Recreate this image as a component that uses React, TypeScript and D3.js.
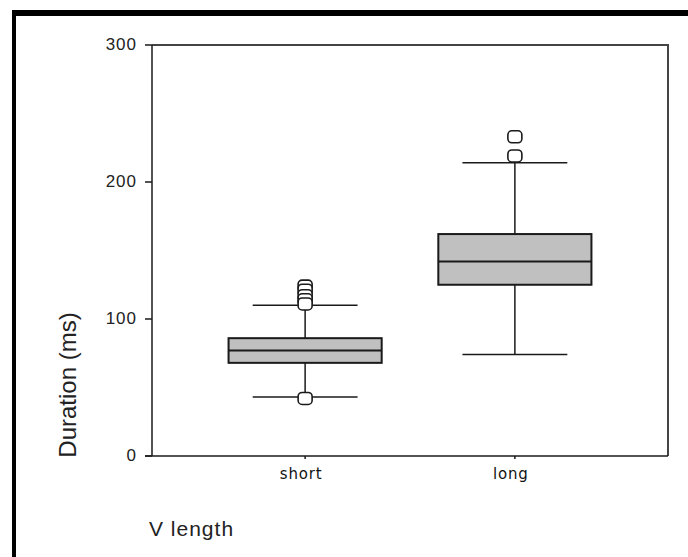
import React from 'react';
import * as d3 from 'd3';

// Box plot stats (ms)
const categories = ['short', 'long'];
const q1 = [68, 125];
const median = [77, 142];
const q3 = [86, 162];
const whiskerLow = [43, 74];
const whiskerHigh = [110, 214];
const outliers = [
  [124, 121, 117, 114, 111, 42],
  [219, 233],
];
const yTicks = [0, 100, 200, 300];

const W = 688, H = 557;
const plot = { left: 152, top: 45, right: 668, bottom: 456 };

export default function App() {
  const y = d3.scaleLinear().domain([0, 300]).range([plot.bottom, plot.top]);
  const x = d3.scalePoint<string>().domain(categories).range([plot.left, plot.right]).padding(0.73);
  const step = x.step();
  const boxW = step * 0.73;
  const capW = step * 0.5;
  const ink = '#1a1a1a';

  return (
    <svg width={W} height={H} style={{ position: 'absolute', left: 0, top: 0, background: '#fff' }}
      fontFamily="'Liberation Sans', Arial, sans-serif">
      {/* outer frame (top and left black bars) */}
      <rect x={12} y={10} width={W - 12} height={6} fill="#000" />
      <rect x={12} y={10} width={4} height={H - 10} fill="#000" />

      {/* plot frame */}
      <path d={`M${plot.left},${plot.top}H${plot.right}V${plot.bottom}`} fill="none" stroke="#444" strokeWidth={2} />
      <line x1={plot.left} x2={plot.left} y1={plot.top} y2={plot.bottom} stroke={ink} strokeWidth={1.5} />
      <line x1={plot.left - 7} x2={plot.right} y1={plot.bottom} y2={plot.bottom} stroke={ink} strokeWidth={1.5} />

      {/* y axis ticks */}
      {yTicks.map(t => (
        <g key={t}>
          <line x1={plot.left - 7} x2={plot.left} y1={y(t)} y2={y(t)} stroke={ink} strokeWidth={1.5} />
          <text x={plot.left - 15} y={y(t)} dy="0.3em" textAnchor="end" fontSize={17} letterSpacing={1}
            fill="#222">{t}</text>
        </g>
      ))}
      <text transform={`translate(76,385) rotate(-90)`} textAnchor="middle"
        fontSize={24} fill="#222">Duration (ms)</text>

      {/* x axis ticks */}
      {categories.map(c => (
        <g key={c}>
          <line x1={x(c)} x2={x(c)} y1={plot.bottom} y2={plot.bottom + 3} stroke={ink} strokeWidth={1.5} />
          <text x={(x(c) as number) - 4} y={479} textAnchor="middle" fontSize={15} letterSpacing={0.8}
            fontFamily="'DejaVu Sans', Verdana, sans-serif" fill="#111">{c}</text>
        </g>
      ))}
      <text x={149} y={536} fontSize={21} letterSpacing={1} fill="#222">V length</text>

      {/* boxes */}
      {categories.map((c, i) => {
        const cx = x(c) as number;
        return (
          <g key={c} stroke={ink} strokeWidth={1.5}>
            <line x1={cx} x2={cx} y1={y(whiskerHigh[i])} y2={y(q3[i])} />
            <line x1={cx} x2={cx} y1={y(q1[i])} y2={y(whiskerLow[i])} />
            <line x1={cx - capW / 2} x2={cx + capW / 2} y1={y(whiskerHigh[i])} y2={y(whiskerHigh[i])} />
            <line x1={cx - capW / 2} x2={cx + capW / 2} y1={y(whiskerLow[i])} y2={y(whiskerLow[i])} />
            <rect x={cx - boxW / 2} y={y(q3[i])} width={boxW} height={y(q1[i]) - y(q3[i])} fill="#c0c0c0" strokeWidth={2} />
            <line x1={cx - boxW / 2} x2={cx + boxW / 2} y1={y(median[i])} y2={y(median[i])} strokeWidth={2} />
            {outliers[i].map((v, k) => (
              <rect key={k} x={cx - 7} y={y(v) - 6} width={14} height={12} rx={4} fill="#fff" strokeWidth={1.6} />
            ))}
          </g>
        );
      })}
    </svg>
  );
}
